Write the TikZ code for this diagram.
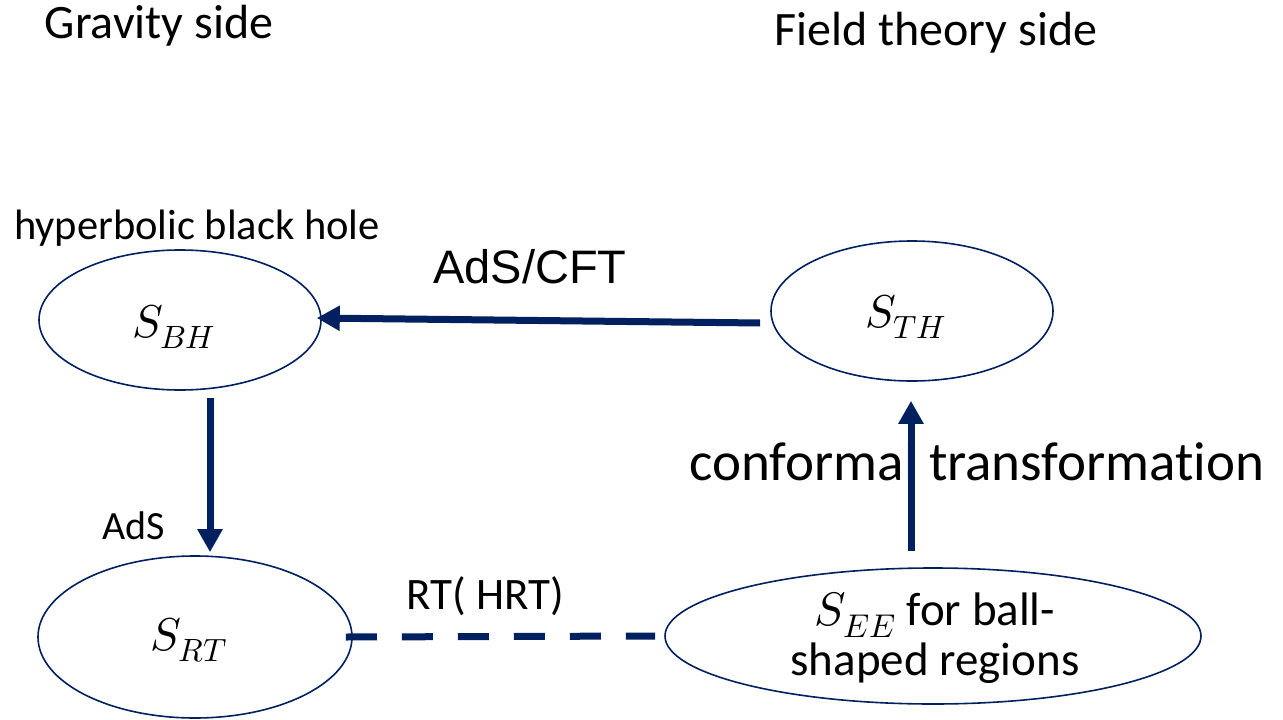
\documentclass[tikz,border=0pt]{standalone}
\usepackage{fontspec}
\usepackage{unicode-math}
\setmainfont{Carlito}[Ligatures=NoCommon]
\setmathfont{Latin Modern Math}
\usetikzlibrary{arrows.meta,shapes.geometric}
\definecolor{navy}{HTML}{002060}
\tikzset{
  ell/.style={draw=navy, line width=1.6pt, shape=ellipse, inner sep=0pt},
  arr/.style={draw=navy, line width=7pt, -{Triangle[length=23pt,width=24pt]}},
  dsh/.style={draw=navy, line width=7pt, dash pattern=on 31pt off 25pt},
  big/.style={font=\fontsize{47}{50}\selectfont},
  mth/.style={font=\fontsize{46}{50}\selectfont},
}
\begin{document}
\begin{tikzpicture}[x=1pt,y=-1pt]
\useasboundingbox (0,0) rectangle (1283,720);
% ellipses
\node[ell, minimum width=282pt, minimum height=140pt] (BH) at (180,320) {};
\node[ell, minimum width=282pt, minimum height=140pt] (TH) at (912,311) {};
\node[ell, minimum width=314pt, minimum height=162pt] (RT) at (195,637) {};
\node[ell, minimum width=536pt, minimum height=136pt] (EE) at (933,636) {};
% ellipse contents
\node[mth] (tBH) at (174,327) {$S_{BH}$};
\node[mth] (tTH) at (906,317) {$S_{TH}$};
\node[mth] (tRT) at (189,640) {$S_{RT}$};
\node[big, align=center] (tEE) at (935,638) {$S_{EE}$ for ball-\\shaped regions};
% titles and labels
\node[font=\fontsize{48}{50}\selectfont, anchor=base] (grav) at (159,38) {Gravity side};
\node[font=\fontsize{48}{50}\selectfont, anchor=base] (field) at (936,45) {Field theory side};
\node[font=\fontsize{42.5}{50}\selectfont, anchor=base] (hyp) at (197,239) {hyperbolic black hole};
\node[font=\fontsize{47}{55}\selectfont\fontspec{Liberation Sans}, anchor=base] (adscft) at (530,283) {AdS/CFT};
\node[font=\fontsize{40}{48}\selectfont, anchor=base] (ads) at (134,539) {AdS};
\node[font=\fontsize{45}{50}\selectfont, anchor=base] (rtl) at (485,609) {RT( HRT)};
\node[font=\fontsize{55}{60}\selectfont, anchor=base] (conf) at (977,480) {conformal transformation};
% connectors
\draw[arr] ([shift={(-10,12)}]TH.west) -- ([shift={(-5,-2)}]BH.east);
\draw[arr] ([shift={(30,7)}]BH.south) -- ([shift={(15,-3)}]RT.north);
\draw[arr] ([shift={(-22,-16)}]EE.north) -- ([shift={(-1,19)}]TH.south);
\draw[dsh] ([shift={(-7,0)}]RT.east) -- ([shift={(-9,0)}]EE.west);
\end{tikzpicture}
\end{document}
